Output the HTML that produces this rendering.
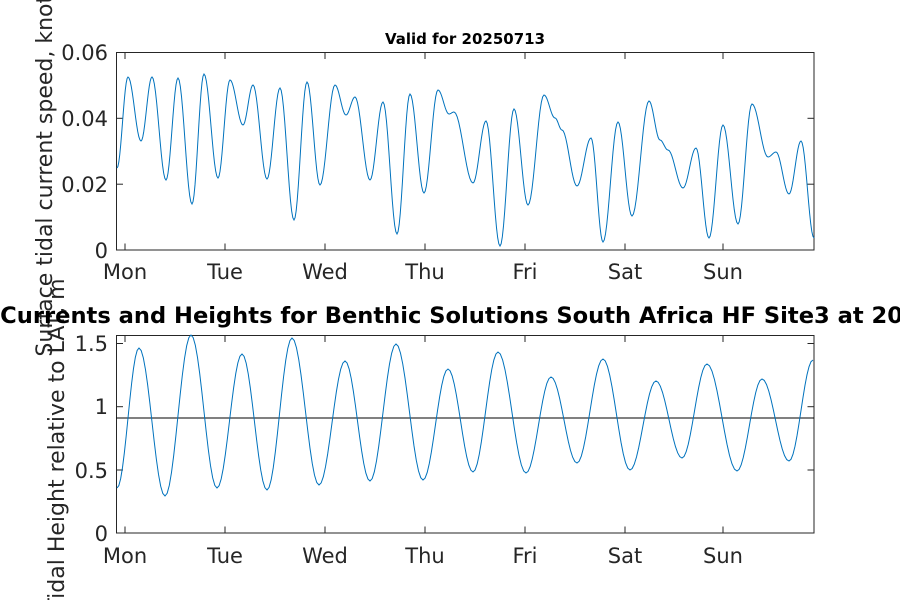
<!DOCTYPE html>
<html><head><meta charset="utf-8"><style>
html,body{margin:0;padding:0;background:#fff;width:900px;height:600px;overflow:hidden}
svg text{font-family:"DejaVu Sans","Liberation Sans",sans-serif}
</style></head><body>
<svg id="s" width="900" height="600" xmlns="http://www.w3.org/2000/svg">
<rect width="900" height="600" fill="#fff"/>
<g fill="none" stroke="#262626" stroke-width="1">
<rect x="116.5" y="52.5" width="697.5" height="197.5"/>
<rect x="116.5" y="335.5" width="697.5" height="197.5"/>
</g>
<g stroke="#262626" stroke-width="1" id="ticks"></g>
<line x1="116.5" y1="418" x2="814" y2="418" stroke="#000" stroke-width="1"/>
<path id="p1" fill="none" stroke="#0072bd" stroke-width="1"/>
<path id="p2" fill="none" stroke="#0072bd" stroke-width="1"/>
<g fill="#262626" font-size="21" text-anchor="end">
<text x="108" y="60">0.06</text>
<text x="108" y="126">0.04</text>
<text x="108" y="192">0.02</text>
<text x="108" y="258">0</text>
<text x="108" y="351">1.5</text>
<text x="108" y="414">1</text>
<text x="108" y="478">0.5</text>
<text x="108" y="541">0</text>
</g>
<g fill="#262626" font-size="21" text-anchor="middle">
<text x="125" y="279">Mon</text><text x="225" y="279">Tue</text><text x="325" y="279">Wed</text><text x="425" y="279">Thu</text><text x="525" y="279">Fri</text><text x="625" y="279">Sat</text><text x="723" y="279">Sun</text>
<text x="125" y="563">Mon</text><text x="225" y="563">Tue</text><text x="325" y="563">Wed</text><text x="425" y="563">Thu</text><text x="525" y="563">Fri</text><text x="625" y="563">Sat</text><text x="723" y="563">Sun</text>
</g>
<text x="465" y="44" font-size="15" font-weight="bold" text-anchor="middle" fill="#000">Valid for 20250713</text>
<text transform="translate(52,170) rotate(-90)" font-size="22" fill="#262626" text-anchor="middle">Surface tidal current speed, knots</text>
<text transform="translate(64,445) rotate(-90)" font-size="22" fill="#262626" text-anchor="middle">Tidal Height relative to LAT, m</text>
<text x="-70" y="323" font-size="22.6" font-weight="bold" fill="#000">Tidal Currents and Heights for Benthic Solutions South Africa HF Site3 at 20250713</text>
</svg>
<script>
var tk=document.getElementById('ticks'),h='';
[125,225,325,425,525,625,723].forEach(function(x){h+='<line x1="'+x+'" y1="52.5" x2="'+x+'" y2="59"/><line x1="'+x+'" y1="250" x2="'+x+'" y2="243.5"/><line x1="'+x+'" y1="335.5" x2="'+x+'" y2="342"/><line x1="'+x+'" y1="533" x2="'+x+'" y2="526.5"/>';});
[52.5,118.3,184.2,250].forEach(function(y){h+='<line x1="116.5" y1="'+y+'" x2="123" y2="'+y+'"/><line x1="814" y1="'+y+'" x2="807.5" y2="'+y+'"/>';});
[343.5,406.7,470,533].forEach(function(y){h+='<line x1="116.5" y1="'+y+'" x2="123" y2="'+y+'"/><line x1="814" y1="'+y+'" x2="807.5" y2="'+y+'"/>';});
tk.innerHTML=h;
function build(pts){var d='M'+pts[0][0]+','+pts[0][1];
for(var i=0;i<pts.length-1;i++){var a=pts[i],b=pts[i+1];for(var k=1;k<=12;k++){var f=k/12,w=(1-Math.cos(Math.PI*f))/2;d+='L'+(a[0]+(b[0]-a[0])*f).toFixed(2)+','+(a[1]+(b[1]-a[1])*w).toFixed(2);}}return d;}
var topPts=[[117,168],[128,77],[141,141],[152,77],[166,180],[178,78],[192,204],[204,74],[218,178],[230,80],[243,125],[253,85],[267,179],[280,88],[294,220],[307,82],[320,185],[335,85],[346,115],[355,97],[370,180],[383,102],[397,234],[410,94],[424,193],[438,90],[449,114],[454,112],[473,183],[486,121],[500,246],[514,109],[528,205],[544,95],[555,118],[562,130],[577,186],[591,138],[603,242],[618,122],[632,216],[649,101],[660,140],[668,150],[683,188],[696,148],[709,238],[723,125],[738,224],[752,104],[768,157],[776,152],[789,194],[801,141],[814,238]];
var botPts=[[117,488],[139,348],[165,496],[191,335],[217,488],[242,354],[267,490],[292,338],[319,485],[345,361],[370,481],[396,344],[423,480],[448,369],[473,472],[498,352],[526,473],[551,377],[577,463],[603,359],[630,470],[656,381],[682,458],[707,364],[737,471],[762,379],[789,461],[813,360]];
document.getElementById('p1').setAttribute('d',build(topPts));
document.getElementById('p2').setAttribute('d',build(botPts));
</script>
</body></html>
